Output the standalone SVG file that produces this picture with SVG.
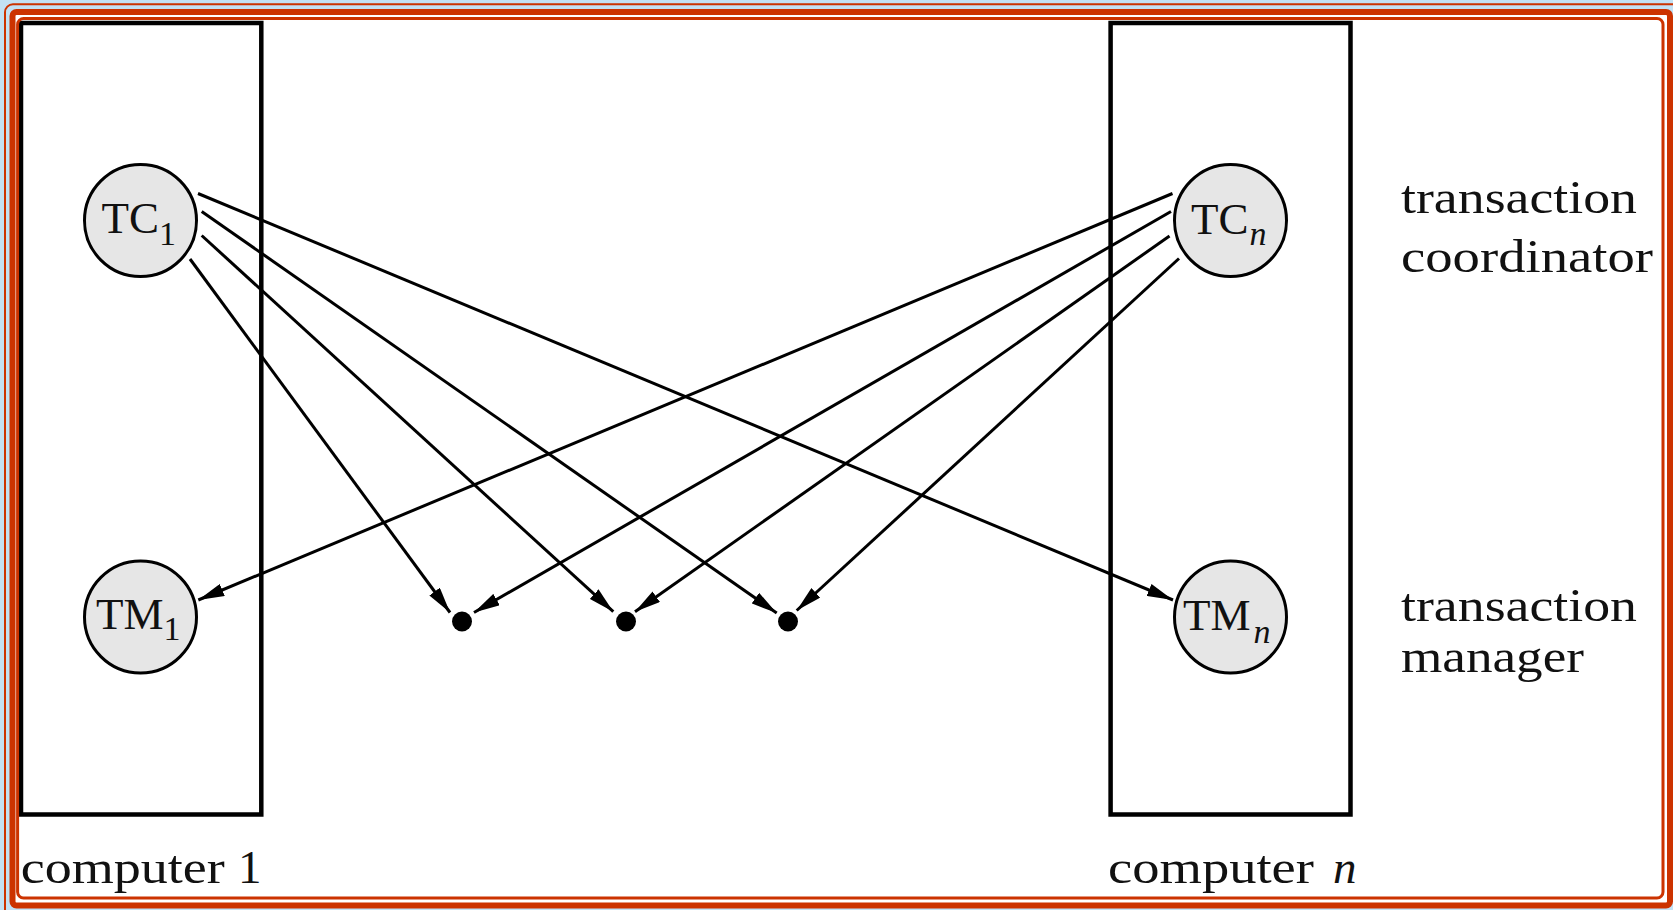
<svg xmlns="http://www.w3.org/2000/svg" width="1673" height="910" viewBox="0 0 1673 910">
  <defs>
    <marker id="arrow" viewBox="0 0 26 13" refX="26" refY="6.5" markerWidth="26" markerHeight="13" markerUnits="userSpaceOnUse" orient="auto">
      <path d="M0,0 L26,6.5 L0,13 z" fill="#000"/>
    </marker>
    <style>
      .frame-thin { fill: none; stroke: #cc3300; stroke-width: 2; }
      .frame-thick { fill: #fff; stroke: #cc3300; stroke-width: 6; }
      .frame-inner { fill: none; stroke: #cc3300; stroke-width: 3; }
      .box { fill: none; stroke: #000; stroke-width: 4.5; }
      .proc { fill: #e6e6e6; stroke: #000; stroke-width: 3; }
      .dot { fill: #000; }
      .conn { fill: none; stroke: #000; stroke-width: 3; marker-end: url(#arrow); }
      .lbl { font-family: "Liberation Serif", "Times New Roman", serif; font-size: 47px; fill: #111; }
      .node-lbl { font-family: "Liberation Serif", "Times New Roman", serif; font-size: 45px; fill: #111; }
      .sub { font-size: 34px; }
      .it { font-style: italic; }
    </style>
  </defs>

  <!-- slide frame -->
  <rect x="0" y="0" width="1673" height="910" fill="#c3e1f4"/>
  <rect class="frame-thin" x="5" y="4.3" width="1690" height="1000" rx="8"/>
  <rect class="frame-thick" x="12.5" y="12" width="1657.5" height="893.5" rx="4"/>

  <!-- computers -->
  <g id="computer-1">
    <rect class="box" x="21" y="23" width="240.3" height="791.5"/>
    <text class="lbl" x="20.7" y="883" textLength="204" lengthAdjust="spacingAndGlyphs">computer</text>
    <text class="lbl" x="238" y="883">1</text>
  </g>
  <g id="computer-n">
    <rect class="box" x="1110.6" y="23" width="239.9" height="791.5"/>
    <text class="lbl" x="1108" y="883" textLength="206" lengthAdjust="spacingAndGlyphs">computer</text>
    <text class="lbl it" x="1333" y="883">n</text>
  </g>

  <rect class="frame-inner" x="17.6" y="18.5" width="1645.4" height="879.5" rx="6"/>

  <!-- connectors -->
  <g id="connectors">
    <line class="conn" x1="198" y1="193.5" x2="1173" y2="600"/>
    <line class="conn" x1="201.7" y1="211.5" x2="776.7" y2="613"/>
    <line class="conn" x1="201.7" y1="235.5" x2="613.3" y2="611.7"/>
    <line class="conn" x1="190" y1="259" x2="450" y2="612.5"/>
    <line class="conn" x1="1172.5" y1="193.5" x2="198.3" y2="600"/>
    <line class="conn" x1="1171" y1="211.5" x2="474" y2="612.5"/>
    <line class="conn" x1="1169.5" y1="236" x2="635" y2="611.7"/>
    <line class="conn" x1="1179" y1="258.5" x2="796.7" y2="610.5"/>
  </g>

  <!-- processes -->
  <g id="tc-1">
    <circle class="proc" cx="140.5" cy="220.5" r="56"/>
    <text class="node-lbl" x="101.5" y="233">TC<tspan class="sub" dy="12">1</tspan></text>
  </g>
  <g id="tm-1">
    <circle class="proc" cx="140.5" cy="617" r="56"/>
    <text class="node-lbl" x="96" y="629">TM<tspan class="sub" dy="11">1</tspan></text>
  </g>
  <g id="tc-n">
    <circle class="proc" cx="1230.5" cy="220.5" r="56"/>
    <text class="node-lbl" x="1191" y="234">TC<tspan class="sub it" dx="1" dy="11">n</tspan></text>
  </g>
  <g id="tm-n">
    <circle class="proc" cx="1230.5" cy="617" r="56"/>
    <text class="node-lbl" x="1183" y="630">TM<tspan class="sub it" dx="3" dy="13">n</tspan></text>
  </g>

  <!-- sites -->
  <g id="site-1"><circle class="dot" cx="462" cy="621.5" r="10"/></g>
  <g id="site-2"><circle class="dot" cx="626" cy="621.5" r="10"/></g>
  <g id="site-3"><circle class="dot" cx="788" cy="621.5" r="10"/></g>

  <!-- row labels -->
  <g id="label-coordinator">
    <text class="lbl" x="1401" y="213" textLength="236" lengthAdjust="spacingAndGlyphs">transaction</text>
    <text class="lbl" x="1401" y="272" textLength="252" lengthAdjust="spacingAndGlyphs">coordinator</text>
  </g>
  <g id="label-manager">
    <text class="lbl" x="1401" y="621" textLength="236" lengthAdjust="spacingAndGlyphs">transaction</text>
    <text class="lbl" x="1401" y="672" textLength="183" lengthAdjust="spacingAndGlyphs">manager</text>
  </g>
</svg>
